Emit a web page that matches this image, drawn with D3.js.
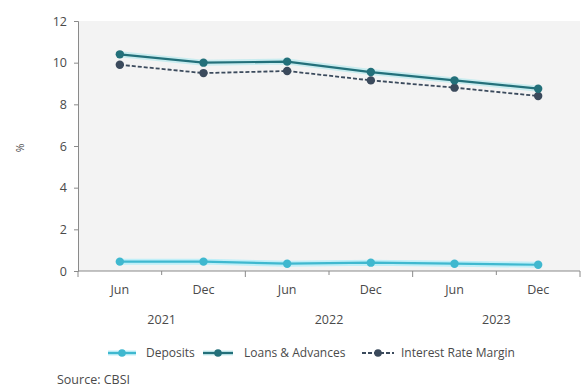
<!DOCTYPE html>
<html>
<head>
<meta charset="utf-8">
<script src="https://cdn.jsdelivr.net/npm/d3@7"></script>
<style>
  body { margin: 0; background: #fff; }
  svg { font-family: "Open Sans", "Liberation Sans", sans-serif; }
</style>
</head>
<body>
<svg id="chart" width="585" height="392"></svg>
<script>
// Half-year periods
const periods = ["Jun 2021", "Dec 2021", "Jun 2022", "Dec 2022", "Jun 2023", "Dec 2023"];
const periodLabels = ["Jun", "Dec", "Jun", "Dec", "Jun", "Dec"];
const years = ["2021", "2022", "2023"];
const yTicks = [0, 2, 4, 6, 8, 10, 12];

// Rates, %
const deposits = [0.45, 0.45, 0.35, 0.40, 0.35, 0.30];
const loans = [10.4, 10.0, 10.05, 9.55, 9.15, 8.75];
const margin = [9.9, 9.5, 9.6, 9.15, 8.8, 8.4];

const seriesNames = ["Deposits", "Loans & Advances", "Interest Rate Margin"];

const svg = d3.select("#chart");
const plotLeft = 78, plotRight = 580, plotTop = 21, plotBottom = 271;
const textColor = "#4a4a4a";

const x = d3.scaleBand().domain(periods).range([plotLeft, plotRight]);
const y = d3.scaleLinear().domain([0, 12]).range([plotBottom, plotTop]);

// plot background
svg.append("rect")
  .attr("x", plotLeft).attr("y", plotTop)
  .attr("width", plotRight - plotLeft).attr("height", plotBottom - plotTop)
  .attr("fill", "#f3f3f3");

// y axis
const yAxis = svg.append("g")
  .attr("transform", `translate(${plotLeft},0)`)
  .call(d3.axisLeft(y).tickValues(yTicks).tickSize(4).tickPadding(7));
yAxis.select(".domain").attr("stroke", "#8a8a8a");
yAxis.selectAll(".tick line").attr("stroke", "#8a8a8a");
yAxis.selectAll(".tick text").attr("fill", textColor).attr("font-size", 12.5)
  .attr("font-family", "'Open Sans', sans-serif");

svg.append("text")
  .attr("transform", "translate(24,148) rotate(-90)")
  .attr("text-anchor", "middle")
  .attr("fill", textColor)
  .attr("font-size", 10.5)
  .text("%");

// x axis: labels at band centres, ticks at band edges
const xg = svg.append("g").attr("transform", `translate(0,${plotBottom})`);
xg.append("line")
  .attr("x1", plotLeft).attr("x2", plotRight)
  .attr("stroke", "#8a8a8a").attr("stroke-width", 1.2);
const edges = periods.map(p => x(p)).concat([plotRight]);
edges.forEach((ex, i) => {
  const major = i % 2 === 0;
  xg.append("line")
    .attr("x1", ex).attr("x2", ex)
    .attr("y1", 0).attr("y2", major ? 6 : 4)
    .attr("stroke", "#8a8a8a");
});
xg.selectAll("text.period")
  .data(periods)
  .join("text")
  .attr("class", "period")
  .attr("x", d => x(d) + x.bandwidth() / 2)
  .attr("y", 23)
  .attr("text-anchor", "middle")
  .attr("fill", textColor)
  .attr("font-size", 12.5)
  .text((d, i) => periodLabels[i]);
xg.selectAll("text.year")
  .data(years)
  .join("text")
  .attr("class", "year")
  .attr("x", (d, i) => x(periods[i * 2]) + x.bandwidth())
  .attr("y", 53)
  .attr("text-anchor", "middle")
  .attr("fill", textColor)
  .attr("font-size", 12.5)
  .text(d => d);

const line = d3.line()
  .x((d, i) => x(periods[i]) + x.bandwidth() / 2)
  .y(d => y(d));

const styles = [
  { data: deposits, color: "#3fb8cf", glow: "#bfeff8", dash: null, width: 2.2 },
  { data: loans, color: "#23707a", glow: "#c9ecef", dash: null, width: 2.2 },
  { data: margin, color: "#3b4a5c", glow: null, dash: "4,2", width: 1.8 }
];

styles.forEach(s => {
  if (s.glow) {
    svg.append("path").datum(s.data)
      .attr("d", line).attr("fill", "none")
      .attr("stroke", s.glow).attr("stroke-width", 6)
      .attr("stroke-linecap", "round");
  }
});
[2, 1, 0].forEach(k => {
  const s = styles[k];
  svg.append("path").datum(s.data)
    .attr("d", line).attr("fill", "none")
    .attr("stroke", s.color).attr("stroke-width", s.width)
    .attr("stroke-dasharray", s.dash);
  svg.append("g").selectAll("circle")
    .data(s.data)
    .join("circle")
    .attr("cx", (d, i) => x(periods[i]) + x.bandwidth() / 2)
    .attr("cy", d => y(d))
    .attr("r", 4.2)
    .attr("fill", s.color);
});

// legend
const legendItems = [
  { lx: 108, len: 28, tx: 146 },
  { lx: 203, len: 30, tx: 244 },
  { lx: 362, len: 32, tx: 401 }
];
const lg = svg.append("g").attr("transform", "translate(0,353)");
legendItems.forEach((it, k) => {
  const s = styles[k];
  if (s.glow) {
    lg.append("line").attr("x1", it.lx).attr("x2", it.lx + it.len)
      .attr("stroke", s.glow).attr("stroke-width", 5);
  }
  lg.append("line").attr("x1", it.lx).attr("x2", it.lx + it.len)
    .attr("stroke", s.color).attr("stroke-width", s.width)
    .attr("stroke-dasharray", s.dash);
  lg.append("circle").attr("cx", it.lx + it.len / 2).attr("cy", 0).attr("r", 3.8)
    .attr("fill", s.color);
  lg.append("text").attr("x", it.tx).attr("y", 4)
    .attr("fill", textColor).attr("font-size", 12)
    .text(seriesNames[k]);
});

svg.append("text")
  .attr("x", 57).attr("y", 384)
  .attr("fill", textColor).attr("font-size", 12.5)
  .text("Source: CBSI");
</script>
</body>
</html>
